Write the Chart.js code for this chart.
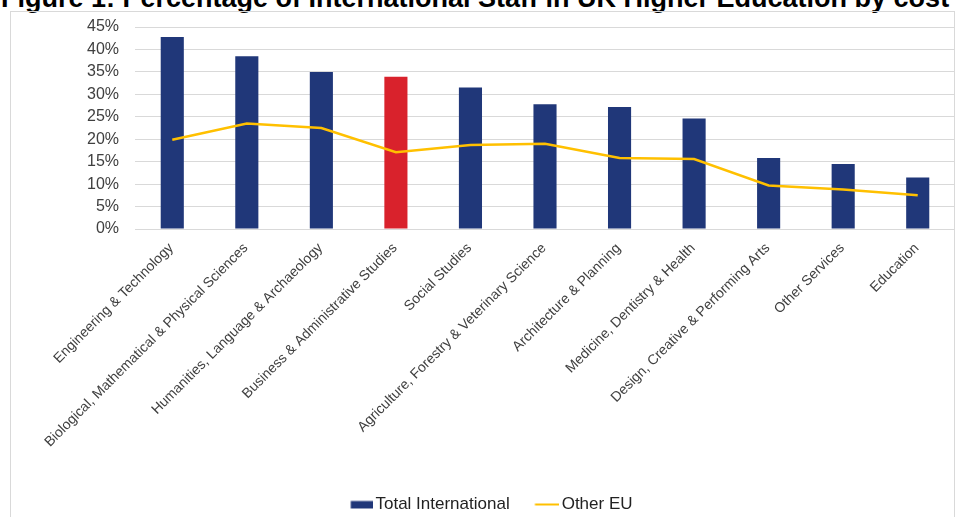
<!DOCTYPE html>
<html>
<head>
<meta charset="utf-8">
<script src="https://cdn.jsdelivr.net/npm/chart.js@4.4.1/dist/chart.umd.min.js"></script>
<style>
  html, body { margin: 0; padding: 0; background: #ffffff; overflow: hidden; }
  #wrap { position: relative; width: 957px; height: 517px; overflow: hidden; }
  #title {
    position: absolute; left: 1px; top: -15px; white-space: nowrap;
    font: bold 27px/1 "Liberation Sans", Arial, sans-serif; color: #000000;
  }
  #frame {
    position: absolute; left: 10px; top: 11px; width: 945px; height: 530px;
    border: 1px solid #d9d9d9; box-sizing: border-box;
  }
  #chart { position: absolute; left: 0; top: 0; }
</style>
</head>
<body>
<div id="wrap">
  <div id="title">Figure 1: Percentage of International Staff in UK Higher Education by cost centre</div>
  <div id="frame"></div>
  <canvas id="chart" width="957" height="517"></canvas>
</div>
<script>
// Cost centres (subject areas)
const categories = [
  'Engineering & Technology',
  'Biological, Mathematical & Physical Sciences',
  'Humanities, Language & Archaeology',
  'Business & Administrative Studies',
  'Social Studies',
  'Agriculture, Forestry & Veterinary Science',
  'Architecture & Planning',
  'Medicine, Dentistry & Health',
  'Design, Creative & Performing Arts',
  'Other Services',
  'Education'
];

// Share of staff, percent
const totalInternational = [42.8, 38.5, 35.0, 33.9, 31.5, 27.8, 27.2, 24.6, 15.8, 14.5, 11.5];
const otherEU = [19.9, 23.5, 22.5, 17.1, 18.7, 19.0, 15.8, 15.6, 9.7, 8.8, 7.5];

// Y axis ticks
const yTicks = [0, 5, 10, 15, 20, 25, 30, 35, 40, 45];

// Highlighted cost centre
const highlighted = 'Business & Administrative Studies';

const NAVY = '#203779';
const RED = '#D9222C';
const GOLD = '#FFC000';
const FONT = '"Liberation Sans", Arial, sans-serif';

const CANVAS_H = 517;
const PAD_BOTTOM = -6;     // lets the legend sit close to the lower edge
const PLOT_BOTTOM = 229;   // pixel row of the 0% line

const barColors = categories.map(c => c === highlighted ? RED : NAVY);

// Legend swatches: the visible mark sits in the right part of a wider
// transparent image so the label text follows closely after it.
const SWATCH_W = 29.5, SWATCH_H = 10;
function makeSwatch(draw) {
  const c = document.createElement('canvas');
  c.width = SWATCH_W; c.height = SWATCH_H;
  c.style.width = SWATCH_W + 'px';
  const g = c.getContext('2d');
  draw(g);
  return c;
}
const barSwatch = makeSwatch(g => { g.fillStyle = NAVY; g.fillRect(6.5, 1.5, 23, 7.5); });
const lineSwatch = makeSwatch(g => {
  g.strokeStyle = GOLD; g.lineWidth = 2;
  g.beginPath(); g.moveTo(4.5, 5); g.lineTo(29.5, 5); g.stroke();
});

new Chart(document.getElementById('chart'), {
  data: {
    labels: categories,
    datasets: [
      {
        type: 'line',
        label: 'Other EU',
        data: otherEU,
        borderColor: GOLD,
        backgroundColor: GOLD,
        borderWidth: 2.5,
        pointRadius: 0,
        pointHoverRadius: 0,
        tension: 0,
        fill: false,
        order: 0
      },
      {
        type: 'bar',
        label: 'Total International',
        data: totalInternational,
        backgroundColor: barColors,
        borderWidth: 0,
        barPercentage: 0.31,
        categoryPercentage: 1.0,
        order: 1
      }
    ]
  },
  options: {
    responsive: false,
    animation: false,
    devicePixelRatio: 1,
    layout: { padding: { left: 28, right: 2, top: 27, bottom: PAD_BOTTOM } },
    plugins: {
      tooltip: { enabled: false },
      legend: {
        position: 'bottom',
        reverse: true,
        labels: {
          color: '#222222',
          font: { family: FONT, size: 17 },
          usePointStyle: true,
          pointStyleWidth: 16.5,
          boxHeight: 8,
          padding: 27,
          generateLabels(chart) {
            const items = Chart.defaults.plugins.legend.labels.generateLabels(chart);
            items.forEach(it => {
              const ds = chart.data.datasets[it.datasetIndex];
              it.pointStyle = ds.type === 'line' ? lineSwatch : barSwatch;
              it.lineWidth = 0;
            });
            return items;
          }
        }
      }
    },
    scales: {
      x: {
        grid: { display: false },
        border: { display: false },
        ticks: {
          color: '#404040',
          font: { family: FONT, size: 14 },
          minRotation: 45,
          maxRotation: 45,
          autoSkip: false,
          padding: 3,
          labelOffset: -1
        },
        afterFit(scale) {
          const legendH = scale.chart.legend ? scale.chart.legend.height : 71;
          scale.height = CANVAS_H - PAD_BOTTOM - legendH - PLOT_BOTTOM;
        }
      },
      y: {
        min: 0,
        max: 45,
        afterBuildTicks(scale) {
          scale.ticks = yTicks.map(v => ({ value: v }));
        },
        grid: { color: '#d9d9d9', lineWidth: 1, drawTicks: false },
        border: { display: false },
        ticks: {
          color: '#404040',
          font: { family: FONT, size: 16 },
          padding: 16,
          callback: v => v + '%'
        },
        afterFit(scale) { scale.width = 107; }
      }
    }
  }
});
</script>
</body>
</html>
